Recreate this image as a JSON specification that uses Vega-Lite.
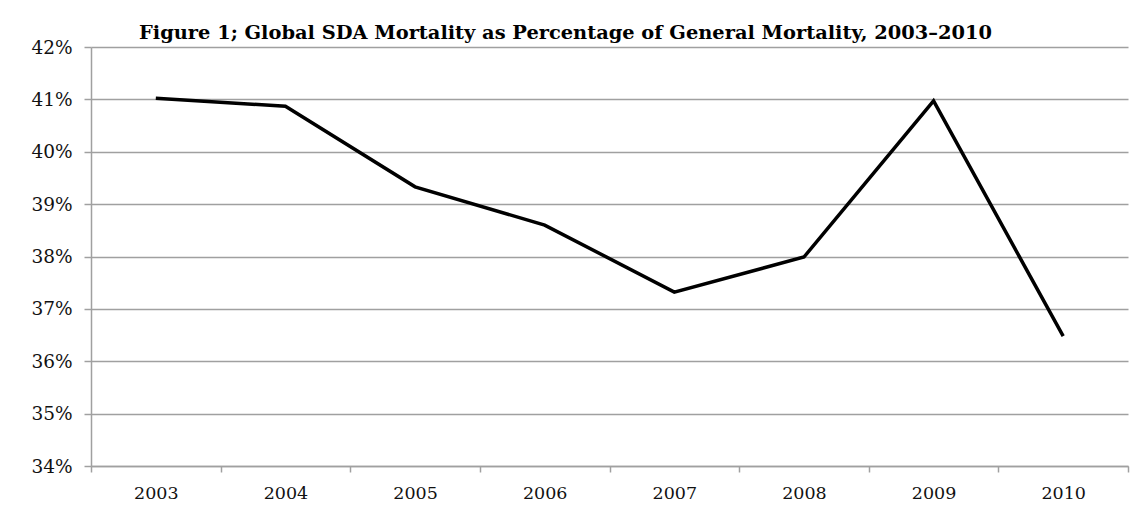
{
  "$schema": "https://vega.github.io/schema/vega-lite/v6.json",
  "autosize": "none",
  "padding": {"left": 91, "top": 47, "right": 19, "bottom": 51},
  "width": 1037,
  "height": 419,
  "background": "white",
  "config": {
    "view": {"stroke": null},
    "font": "DejaVu Serif"
  },
  "title": {
    "text": "Figure 1; Global SDA Mortality as Percentage of General Mortality, 2003–2010",
    "font": "DejaVu Serif",
    "fontSize": 19.4,
    "fontWeight": "bold",
    "color": "#000000",
    "anchor": "middle",
    "frame": "group",
    "baseline": "alphabetic",
    "offset": 8,
    "dx": -44,
    "dy": 28
  },
  "data": {
    "values": [
      {"year": "2003", "pct": 0.4102},
      {"year": "2004", "pct": 0.4087},
      {"year": "2005", "pct": 0.3933},
      {"year": "2006", "pct": 0.3860},
      {"year": "2007", "pct": 0.3732},
      {"year": "2008", "pct": 0.3799},
      {"year": "2009", "pct": 0.4097},
      {"year": "2010", "pct": 0.3648}
    ]
  },
  "mark": {"type": "line", "color": "#000000", "strokeWidth": 3.5, "strokeJoin": "miter"},
  "encoding": {
    "x": {
      "field": "year",
      "type": "ordinal",
      "scale": {"type": "band", "paddingInner": 0, "paddingOuter": 0},
      "axis": {
        "title": null,
        "labelAngle": 0,
        "tickBand": "extent",
        "grid": false,
        "domainColor": "#a0a0a0",
        "domainWidth": 1.5,
        "tickColor": "#a0a0a0",
        "tickWidth": 1.5,
        "tickSize": 6,
        "labelFont": "DejaVu Serif",
        "labelFontSize": 17.5,
        "labelColor": "#111111",
        "labelPadding": 12
      }
    },
    "y": {
      "field": "pct",
      "type": "quantitative",
      "scale": {"domain": [0.34, 0.42], "zero": false, "nice": false},
      "axis": {
        "title": null,
        "values": [0.34, 0.35, 0.36, 0.37, 0.38, 0.39, 0.40, 0.41, 0.42],
        "format": ".0%",
        "grid": true,
        "gridColor": "#a0a0a0",
        "gridWidth": 1.5,
        "domainColor": "#a0a0a0",
        "domainWidth": 1.5,
        "tickColor": "#a0a0a0",
        "tickWidth": 1.5,
        "tickSize": 7,
        "labelFont": "DejaVu Serif",
        "labelFontSize": 18.5,
        "labelColor": "#111111",
        "labelPadding": 12
      }
    }
  }
}
